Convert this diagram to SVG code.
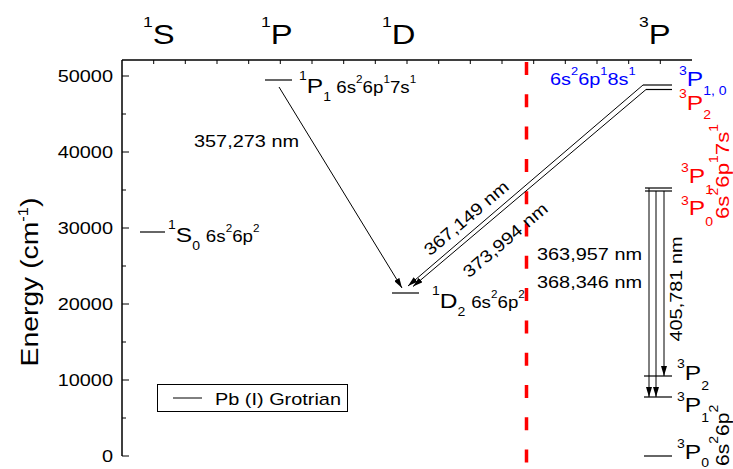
<svg xmlns="http://www.w3.org/2000/svg" width="733" height="469" viewBox="0 0 733 469">
<style>
text{font-family:"Liberation Sans",Arial,sans-serif;fill:#000}
.red{fill:#ff0000}
.blue{fill:#0000ff}
.ax{stroke:#000;stroke-width:1.5;fill:none}
.tk{stroke:#000;stroke-width:1;fill:none}
.lv{stroke:#000;stroke-width:1.2;fill:none}
.tr{stroke:#000;stroke-width:1;fill:none}
.f17{font-size:17px}
</style>
<defs>
<marker id="ah" markerWidth="10" markerHeight="6" refX="10" refY="3" orient="auto" markerUnits="userSpaceOnUse"><path d="M0,0 L10,3 L0,6 z" fill="#000"/></marker>
</defs>
<rect width="733" height="469" fill="#fff"/>
<g id="axes">
<path class="ax" d="M122,60 V456 M122,60 H692"/>
<path class="tk" d="M122,76 H129 M122,152 H129 M122,228 H129 M122,304 H129 M122,380 H129 M122,456 H129 M122,114 H126 M122,190 H126 M122,266 H126 M122,342 H126 M122,418 H126"/>
<path class="tk" d="M153.7,60 V64 M185.3,60 V64 M217,60 V64 M248.7,60 V64 M280.3,60 V64 M312,60 V64 M343.7,60 V64 M375.3,60 V64 M407,60 V64 M438.7,60 V64 M470.3,60 V64 M502,60 V64 M533.7,60 V64 M565.3,60 V64 M597,60 V64 M628.7,60 V64 M660.3,60 V64"/>
<g class="f17" text-anchor="end">
<text transform="translate(113,82) scale(1.17,1)">50000</text>
<text transform="translate(113,158) scale(1.17,1)">40000</text>
<text transform="translate(113,234) scale(1.17,1)">30000</text>
<text transform="translate(113,310) scale(1.17,1)">20000</text>
<text transform="translate(113,386) scale(1.17,1)">10000</text>
<text transform="translate(113,462) scale(1.17,1)">0</text>
</g>
<text transform="translate(38,282) rotate(-90) scale(1.18,1)" text-anchor="middle" font-size="24">Energy (cm<tspan font-size="14" dy="-10">-1</tspan><tspan dy="10">)</tspan></text>
<text transform="translate(143,44) scale(1.17,1)"><tspan font-size="15" dy="-17">1</tspan><tspan font-size="28" dy="17">S</tspan></text>
<text transform="translate(261,44) scale(1.17,1)"><tspan font-size="15" dy="-17">1</tspan><tspan font-size="28" dy="17">P</tspan></text>
<text transform="translate(382,44) scale(1.17,1)"><tspan font-size="15" dy="-17">1</tspan><tspan font-size="28" dy="17">D</tspan></text>
<text transform="translate(639,44) scale(1.17,1)"><tspan font-size="15" dy="-17">3</tspan><tspan font-size="28" dy="17">P</tspan></text>
</g>
<line id="divider" x1="526.5" y1="62" x2="526.5" y2="469" stroke="#ff0000" stroke-width="3.5" stroke-dasharray="13 19.3"/>
<g id="S0">
<line class="lv" x1="140" y1="232" x2="165" y2="232"/>
<text transform="translate(168,242) scale(1.17,1)"><tspan font-size="12" dy="-13">1</tspan><tspan font-size="21" dy="13">S</tspan><tspan font-size="12" dy="8">0</tspan><tspan font-size="16" dy="-8" dx="5">6s</tspan><tspan font-size="10" dy="-10">2</tspan><tspan font-size="16" dy="10">6p</tspan><tspan font-size="10" dy="-10">2</tspan></text>
</g>
<g id="P1">
<line class="lv" x1="265" y1="80" x2="292" y2="80"/>
<text transform="translate(299,93) scale(1.17,1)"><tspan font-size="12" dy="-13">1</tspan><tspan font-size="21" dy="13">P</tspan><tspan font-size="12" dy="8">1</tspan><tspan font-size="16" dy="-8" dx="4.5">6s</tspan><tspan font-size="10" dy="-10">2</tspan><tspan font-size="16" dy="10">6p</tspan><tspan font-size="10" dy="-10">1</tspan><tspan font-size="16" dy="10">7s</tspan><tspan font-size="10" dy="-10">1</tspan></text>
</g>
<g id="D2">
<line class="lv" x1="392" y1="293" x2="419" y2="293"/>
<text transform="translate(432,308) scale(1.17,1)"><tspan font-size="12" dy="-13">1</tspan><tspan font-size="21" dy="13">D</tspan><tspan font-size="12" dy="8">2</tspan><tspan font-size="16" dy="-8" dx="5">6s</tspan><tspan font-size="10" dy="-10">2</tspan><tspan font-size="16" dy="10">6p</tspan><tspan font-size="10" dy="-10">2</tspan></text>
</g>
<g id="P8s">
<line class="lv" x1="643" y1="85" x2="672" y2="85"/>
<line class="lv" x1="646" y1="89.5" x2="672" y2="89.5"/>
<text class="blue" transform="translate(550,85) scale(1.17,1)"><tspan font-size="17">6s</tspan><tspan font-size="11" dy="-10.5">2</tspan><tspan font-size="17" dy="10.5">6p</tspan><tspan font-size="11" dy="-10.5">1</tspan><tspan font-size="17" dy="10.5">8s</tspan><tspan font-size="11" dy="-10.5">1</tspan></text>
<text class="blue" transform="translate(679,86) scale(1.17,1)"><tspan font-size="12" dy="-11">3</tspan><tspan font-size="21" dy="11">P</tspan><tspan font-size="12" dy="9">1, 0</tspan></text>
<text class="red" transform="translate(679,110) scale(1.17,1)"><tspan font-size="12" dy="-12">3</tspan><tspan font-size="21" dy="12">P</tspan><tspan font-size="12" dy="9">2</tspan></text>
</g>
<g id="P7s">
<line class="lv" x1="645" y1="188" x2="672" y2="188"/>
<line class="lv" x1="645" y1="191" x2="672" y2="191"/>
<text class="red" transform="translate(681,183) scale(1.17,1)"><tspan font-size="12" dy="-11">3</tspan><tspan font-size="21" dy="11">P</tspan><tspan font-size="12" dy="11">1</tspan></text>
<text class="red" transform="translate(681,215) scale(1.17,1)"><tspan font-size="12" dy="-10">3</tspan><tspan font-size="21" dy="10">P</tspan><tspan font-size="12" dy="11">0</tspan></text>
<text class="red" transform="translate(729,219) rotate(-90) scale(1.17,1)"><tspan font-size="19">6s</tspan><tspan font-size="12" dy="-11">2</tspan><tspan font-size="19" dy="11">6p</tspan><tspan font-size="12" dy="-11">1</tspan><tspan font-size="19" dy="11">7s</tspan><tspan font-size="12" dy="-11">1</tspan></text>
</g>
<g id="P6p">
<line class="lv" x1="644" y1="376" x2="672" y2="376"/>
<line class="lv" x1="644" y1="397" x2="672" y2="397"/>
<line class="lv" x1="644" y1="456" x2="672" y2="456"/>
<text transform="translate(677,380) scale(1.17,1)"><tspan font-size="12" dy="-12">3</tspan><tspan font-size="21" dy="12">P</tspan><tspan font-size="12" dy="10">2</tspan></text>
<text transform="translate(677,412) scale(1.17,1)"><tspan font-size="12" dy="-11">3</tspan><tspan font-size="21" dy="11">P</tspan><tspan font-size="12" dy="10">1</tspan></text>
<text transform="translate(677,459) scale(1.17,1)"><tspan font-size="12" dy="-11">3</tspan><tspan font-size="21" dy="11">P</tspan><tspan font-size="12" dy="8">0</tspan></text>
<text transform="translate(729,466) rotate(-90) scale(1.17,1)"><tspan font-size="18">6s</tspan><tspan font-size="12" dy="-11">2</tspan><tspan font-size="18" dy="11">6p</tspan><tspan font-size="12" dy="-11">2</tspan></text>
</g>
<g id="connectors">
<line class="tr" x1="279" y1="87" x2="402" y2="288" marker-end="url(#ah)"/>
<line class="tr" x1="643" y1="85" x2="408" y2="286" marker-end="url(#ah)"/>
<line class="tr" x1="646" y1="89.5" x2="413" y2="286.5" marker-end="url(#ah)"/>
<line class="tr" x1="649" y1="188" x2="649" y2="397" marker-end="url(#ah)"/>
<line class="tr" x1="656" y1="191" x2="656" y2="397" marker-end="url(#ah)"/>
<line class="tr" x1="664" y1="191" x2="664" y2="376" marker-end="url(#ah)"/>
<g class="f17">
<text transform="translate(194,147) scale(1.17,1)">357,273 nm</text>
<text transform="translate(470,222.6) rotate(-40.3) scale(1.17,1)" text-anchor="middle">367,149 nm</text>
<text transform="translate(509,244.5) rotate(-40.3) scale(1.17,1)" text-anchor="middle">373,994 nm</text>
<text transform="translate(537,260) scale(1.17,1)">363,957 nm</text>
<text transform="translate(537,288) scale(1.17,1)">368,346 nm</text>
<text transform="translate(682,289) rotate(-90) scale(1.17,1)" text-anchor="middle">405,781 nm</text>
</g>
</g>
<g id="legend">
<rect x="157.5" y="384.5" width="190" height="27" fill="none" stroke="#000" stroke-width="1"/>
<line x1="173" y1="398" x2="202" y2="398" stroke="#000" stroke-width="1"/>
<text class="f17" transform="translate(215,405) scale(1.17,1)">Pb (I) Grotrian</text>
</g>
</svg>
